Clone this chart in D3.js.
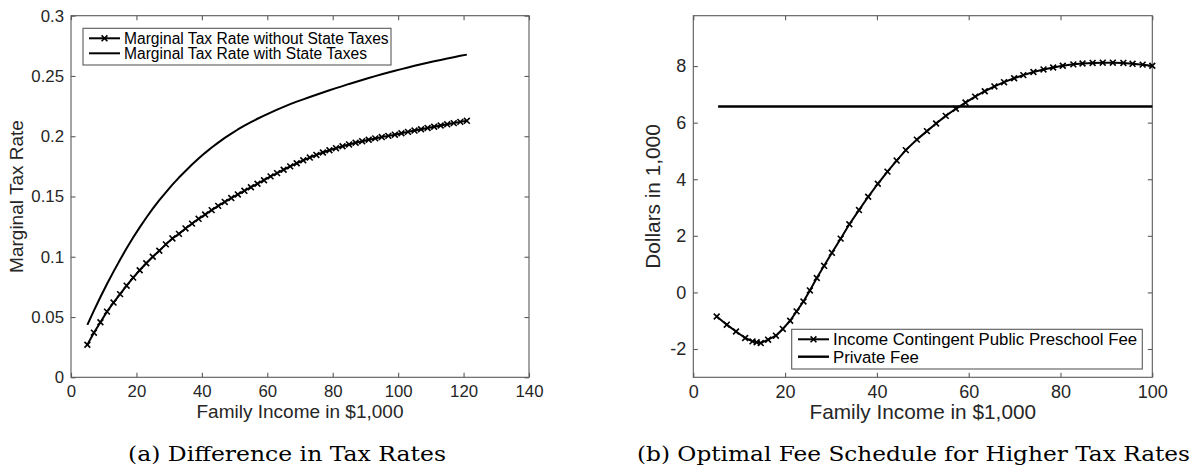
<!DOCTYPE html>
<html>
<head>
<meta charset="utf-8">
<script src="https://cdn.jsdelivr.net/npm/d3@7/dist/d3.min.js"></script>
<style>
  html, body { margin: 0; padding: 0; background: #fff; }
  svg { display: block; }
</style>
</head>
<body>
<svg id="fig" width="1192" height="470"></svg>
<script>
// ---- Panel (a): marginal tax rates by family income ($1,000) ----
const taxIncome = [5,7,9,11,13,15,17,19,21,23,25,27,29,31,33,35,37,39,41,43,45,47,49,51,53,55,57,59,
  61,63,65,67,69,71,73,75,77,79,81,83,85,87,89,91,93,95,97,99,101,103,105,107,109,111,113,115,117,119,121];
const rateWithoutState = [0.027,0.037,0.0457,0.0545,0.062,0.069,0.076,0.0827,0.0888,0.0946,0.100,0.105,0.1103,0.1152,
  0.119,0.1235,0.1275,0.1315,0.135,0.1387,0.1422,0.1455,0.1487,0.1517,0.1547,0.1577,0.1606,0.1635,
  0.1667,0.1694,0.1722,0.175,0.1776,0.18,0.1823,0.1845,0.1865,0.1884,0.1901,0.1917,0.1932,0.1946,0.1959,
  0.1971,0.1982,0.1993,0.2003,0.2013,0.2025,0.2036,0.2047,0.2058,0.2069,0.2079,0.2089,0.2099,0.2109,0.2119,0.2128];
const rateWithState = [0.0435,0.0553,0.0666,0.0774,0.0877,0.0976,0.107,0.1159,0.1244,0.1324,0.1399,0.1469,0.1535,0.1598,
  0.1657,0.1712,0.1765,0.1815,0.1862,0.1906,0.1947,0.1986,0.2022,0.2056,0.2088,0.2117,0.2145,0.2171,
  0.2196,0.2221,0.2244,0.2266,0.2287,0.2306,0.2326,0.2344,0.2363,0.2381,0.2399,0.2416,0.2434,0.245,0.2467,
  0.2483,0.2499,0.2514,0.2528,0.2543,0.2557,0.2571,0.2584,0.2597,0.2609,0.2622,0.2633,0.2645,0.2656,0.2667,0.2677];
const taxXTicks = [0,20,40,60,80,100,120,140];
const taxYTicks = [0,0.05,0.1,0.15,0.2,0.25,0.3];
const taxYTickLabels = ["0","0.05","0.1","0.15","0.2","0.25","0.3"];
const taxLegend = ["Marginal Tax Rate without State Taxes","Marginal Tax Rate with State Taxes"];

// ---- Panel (b): optimal fee schedule (Dollars in 1,000) ----
const feeIncome = [5.1,7.3,9.3,11.3,12.9,13.8,14.7,16.3,18.0,19.5,21.1,22.5,24.0,25.4,26.9,28.5,30.2,32.1,34.0,36.1,
  38.1,40.2,42.3,44.3,46.3,48.7,50.9,52.9,55.0,57.2,59.3,61.4,63.5,65.6,67.7,69.9,71.9,74.1,76.3,78.4,
  80.5,82.8,84.8,87.0,89.2,91.4,93.7,95.7,97.9,100];
const publicFee = [-0.85,-1.14,-1.38,-1.61,-1.73,-1.76,-1.79,-1.67,-1.53,-1.29,-1.0,-0.67,-0.32,0.07,0.51,0.94,1.40,1.90,2.41,2.91,
  3.38,3.84,4.27,4.66,5.03,5.40,5.70,5.97,6.24,6.49,6.71,6.92,7.11,7.28,7.43,7.57,7.68,7.79,7.88,7.95,
  8.01,8.06,8.09,8.11,8.12,8.12,8.11,8.08,8.05,8.01];
const privateFeeIncome = [5.4,100];
const privateFee = [6.57,6.57];
const feeXTicks = [0,20,40,60,80,100];
const feeYTicks = [-2,0,2,4,6,8];
const feeYTickLabels = ["-2","0","2","4","6","8"];
const feeLegend = ["Income Contingent Public Preschool Fee","Private Fee"];

const captions = ["(a) Difference in Tax Rates","(b) Optimal Fee Schedule for Higher Tax Rates"];

const svg = d3.select("#fig");
svg.append("rect").attr("width",1192).attr("height",470).attr("fill","#fff");

const SANS = "'Liberation Sans', Arial, Helvetica, sans-serif";
const AXIS_COLOR = "#5a5a5a";

function crossPath(size) {
  const h = size / 2;
  return `M${-h},${-h}L${h},${h}M${-h},${h}L${h},${-h}`;
}

function panel(cfg) {
  const g = svg.append("g");
  const x = d3.scaleLinear().domain(cfg.xDomain).range([cfg.left, cfg.right]);
  const y = d3.scaleLinear().domain(cfg.yDomain).range([cfg.bottom, cfg.top]);

  // axes box
  g.append("rect")
    .attr("x", cfg.left).attr("y", cfg.top)
    .attr("width", cfg.right - cfg.left).attr("height", cfg.bottom - cfg.top)
    .attr("fill", "none").attr("stroke", AXIS_COLOR).attr("stroke-width", 1.1);

  const tk = -4.5;
  const bottomAxis = d3.axisBottom(x).tickValues(cfg.xTicks).tickSizeInner(tk).tickSizeOuter(0).tickPadding(cfg.xPad);
  const leftAxis = d3.axisLeft(y).tickValues(cfg.yTicks).tickFormat((d, i) => cfg.yLabels[i])
    .tickSizeInner(tk).tickSizeOuter(0).tickPadding(cfg.yPad);
  const topAxis = d3.axisTop(x).tickValues(cfg.xTicks).tickFormat("").tickSizeInner(tk).tickSizeOuter(0);
  const rightAxis = d3.axisRight(y).tickValues(cfg.yTicks).tickFormat("").tickSizeInner(tk).tickSizeOuter(0);

  const ax = [
    g.append("g").attr("transform", `translate(0,${cfg.bottom})`).call(bottomAxis),
    g.append("g").attr("transform", `translate(${cfg.left},0)`).call(leftAxis),
    g.append("g").attr("transform", `translate(0,${cfg.top})`).call(topAxis),
    g.append("g").attr("transform", `translate(${cfg.right},0)`).call(rightAxis)
  ];
  ax.forEach(a => {
    a.select(".domain").remove();
    a.selectAll(".tick line").attr("stroke", AXIS_COLOR).attr("stroke-width", 1.1);
    a.selectAll(".tick text").attr("font-size", cfg.tickFont).attr("font-family", SANS).attr("fill", "#262626");
  });

  // axis titles
  g.append("text")
    .attr("x", (cfg.left + cfg.right) / 2).attr("y", cfg.xLabelY)
    .attr("text-anchor", "middle").attr("font-family", SANS).attr("font-size", cfg.labelFont)
    .attr("fill", "#262626").text(cfg.xLabel);
  g.append("text")
    .attr("transform", `translate(${cfg.yLabelX},${(cfg.top + cfg.bottom) / 2}) rotate(-90)`)
    .attr("text-anchor", "middle").attr("font-family", SANS).attr("font-size", cfg.labelFont)
    .attr("fill", "#262626").text(cfg.yLabel);

  // data series
  cfg.series.forEach(s => {
    const pts = s.xs.map((v, i) => [v, s.ys[i]]);
    g.append("path")
      .attr("d", d3.line().x(d => x(d[0])).y(d => y(d[1]))(pts))
      .attr("fill", "none").attr("stroke", "#000").attr("stroke-width", s.width)
      .attr("stroke-linejoin", "round");
    if (s.marker) {
      g.append("g").selectAll("path").data(pts).join("path")
        .attr("transform", d => `translate(${x(d[0])},${y(d[1])})`)
        .attr("d", crossPath(5.8))
        .attr("stroke", "#000").attr("stroke-width", 1.6).attr("fill", "none");
    }
  });

  // legend
  const L = cfg.legend;
  g.append("rect")
    .attr("x", L.x0).attr("y", L.y0).attr("width", L.x1 - L.x0).attr("height", L.y1 - L.y0)
    .attr("fill", "#fff").attr("stroke", AXIS_COLOR).attr("stroke-width", 1.1);
  cfg.series.forEach((s, i) => {
    const ry = L.rows[i];
    g.append("line").attr("x1", L.sx0).attr("x2", L.sx1).attr("y1", ry).attr("y2", ry)
      .attr("stroke", "#000").attr("stroke-width", s.width);
    if (s.marker) {
      g.append("path").attr("transform", `translate(${(L.sx0 + L.sx1) / 2},${ry})`)
        .attr("d", crossPath(5.8)).attr("stroke", "#000").attr("stroke-width", 1.6);
    }
    g.append("text").attr("x", L.tx).attr("y", ry).attr("dy", "0.35em")
      .attr("font-family", SANS).attr("font-size", L.font).attr("fill", "#000")
      .text(L.labels[i]);
  });

  // sub-figure caption
  g.append("text")
    .attr("x", cfg.capX).attr("y", cfg.capY)
    .attr("font-family", "'DejaVu Serif', 'Liberation Serif', serif")
    .attr("font-size", cfg.capFont).attr("fill", "#000")
    .attr("textLength", cfg.capLen).attr("lengthAdjust", "spacingAndGlyphs")
    .text(cfg.caption);
}

panel({
  left: 71, right: 529, top: 15.7, bottom: 377.3,
  xDomain: [0, 140], yDomain: [0, 0.3],
  xTicks: taxXTicks, yTicks: taxYTicks, yLabels: taxYTickLabels,
  tickFont: 16.8, xPad: 7.5, yPad: 7,
  labelFont: 19, xLabel: "Family Income in $1,000", xLabelY: 417.5,
  yLabel: "Marginal Tax Rate", yLabelX: 22.5,
  series: [
    { xs: taxIncome, ys: rateWithoutState, marker: true, width: 2 },
    { xs: taxIncome, ys: rateWithState, marker: false, width: 2 }
  ],
  legend: { x0: 83, x1: 391, y0: 28.3, y1: 65, rows: [38.3, 53.3], sx0: 89, sx1: 120, tx: 124,
            font: 15.6, labels: taxLegend },
  caption: captions[0], capX: 128, capY: 461, capFont: 20.5, capLen: 318
});

panel({
  left: 693.3, right: 1152.3, top: 15.7, bottom: 377.3,
  xDomain: [0, 100], yDomain: [-3, 9.78],
  xTicks: feeXTicks, yTicks: feeYTicks, yLabels: feeYTickLabels,
  tickFont: 18, xPad: 8, yPad: 7,
  labelFont: 20.8, xLabel: "Family Income in $1,000", xLabelY: 419,
  yLabel: "Dollars in 1,000", yLabelX: 660,
  series: [
    { xs: feeIncome, ys: publicFee, marker: true, width: 2 },
    { xs: privateFeeIncome, ys: privateFee, marker: false, width: 2.4 }
  ],
  legend: { x0: 791.7, x1: 1142.3, y0: 329.3, y1: 369, rows: [339.3, 356.7], sx0: 798, sx1: 829, tx: 833,
            font: 16.8, labels: feeLegend },
  caption: captions[1], capX: 637, capY: 461, capFont: 20.5, capLen: 553
});
</script>
</body>
</html>
